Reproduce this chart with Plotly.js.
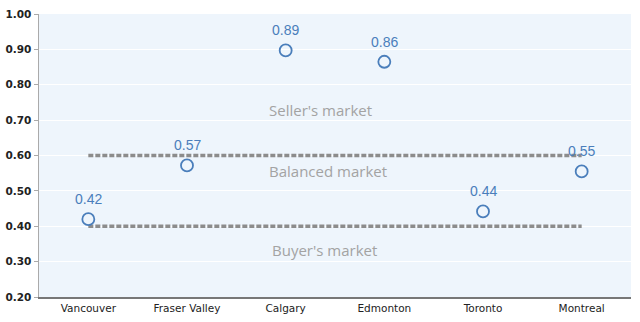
<!DOCTYPE html>
<html><head><meta charset="utf-8">
<script src="https://cdn.plot.ly/plotly-3.0.1.min.js"></script>
<style>body{margin:0;background:#fff}#c{width:640px;height:322px}</style>
</head><body><div id="c"></div>
<script>
const cities = ["Vancouver","Fraser Valley","Calgary","Edmonton","Toronto","Montreal"];
const ratios = [0.42,0.572,0.897,0.865,0.442,0.555];
const ratioLabels = ["0.42","0.57","0.89","0.86","0.44","0.55"];
const sellerThreshold = 0.60;
const buyerThreshold = 0.40;
const zoneLabels = ["Seller's market","Balanced market","Buyer's market"];
const zoneX = [2.35,2.43,2.39];
const zoneY = [0.73,0.555,0.333];
const yTicks = [0.2,0.3,0.4,0.5,0.6,0.7,0.8,0.9,1.0];

const blue = "#4a7ebb";
const traces = [
  {x:cities, y:cities.map(()=>sellerThreshold), mode:"lines", line:{color:"#8c8c8c", width:3.5, dash:"5px,2px"}, hoverinfo:"skip"},
  {x:cities, y:cities.map(()=>buyerThreshold), mode:"lines", line:{color:"#8c8c8c", width:3.5, dash:"5px,2px"}, hoverinfo:"skip"},
  {x:cities, y:ratios, mode:"markers",
   marker:{symbol:"circle-open", size:12, color:blue, line:{width:1.8, color:blue}}}
];
const anns = zoneLabels.map((t,i)=>({x:zoneX[i], y:zoneY[i], xref:"x", yref:"y", text:t, showarrow:false,
    font:{family:"Open Sans", size:15, color:"#a3a3a3"}}));
cities.forEach((c,i)=>anns.push({x:c, y:ratios[i], xref:"x", yref:"y", text:ratioLabels[i], showarrow:false,
    yshift:20, font:{family:"Arial, Liberation Sans", size:14, color:blue}}));
const layout = {
  width:640, height:322, showlegend:false,
  margin:{l:39, r:9, t:14, b:25},
  paper_bgcolor:"#ffffff", plot_bgcolor:"#eef5fc",
  font:{family:"DejaVu Sans", color:"#333"},
  xaxis:{type:"category", range:[-0.5,5.5], showgrid:false, showline:true, linecolor:"#777", linewidth:2,
    ticks:"", tickfont:{size:10.5, color:"#222"}, fixedrange:true},
  yaxis:{range:[0.2,1.0], tickvals:yTicks, ticktext:yTicks.map(v=>v.toFixed(2)), showgrid:true, gridcolor:"#ffffff", gridwidth:1,
    showline:true, linecolor:"#aaa", linewidth:1.5, ticks:"outside", ticklen:4, tickcolor:"#aaa",
    tickfont:{size:10.5, color:"#222", weight:"bold"}, zeroline:false},
  annotations: anns
};
Plotly.newPlot("c", traces, layout, {displayModeBar:false, staticPlot:true});
</script></body></html>
